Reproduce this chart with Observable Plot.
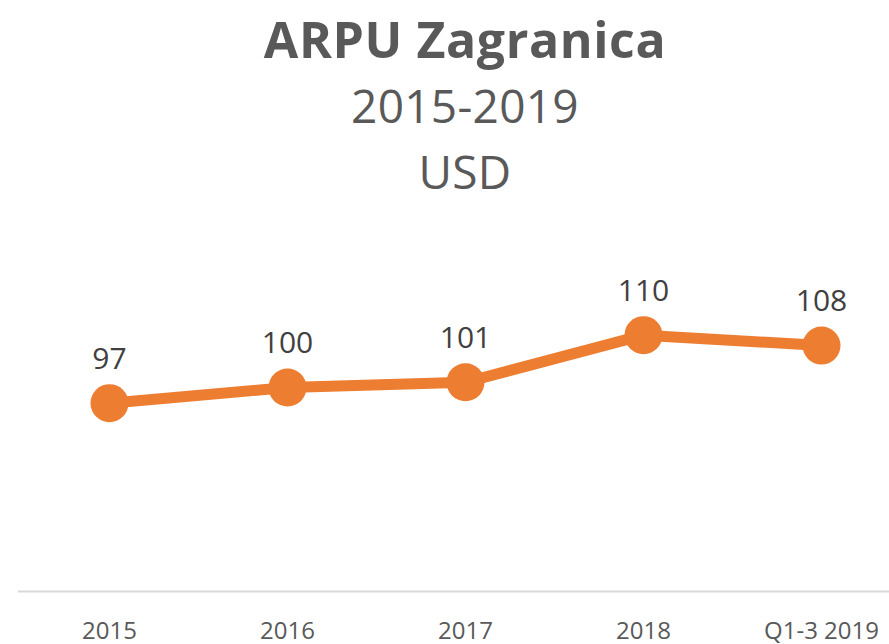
<!DOCTYPE html>
<html>
<head>
<meta charset="utf-8">
<script src="https://cdn.jsdelivr.net/npm/d3@7"></script>
<script src="https://cdn.jsdelivr.net/npm/@observablehq/plot@0.6"></script>
<style>
  html, body { margin: 0; padding: 0; background: #fff; overflow: hidden; }
  #wrap { width: 889px; height: 644px; position: relative; font-family: "Open Sans", sans-serif; }
  #titles { position: absolute; left: 0; top: 6px; width: 930px; height: 204px; text-align: center; color: #595959; }
  .t1 { font-weight: 700; font-size: 50px; line-height: 66px; height: 66px; letter-spacing: 0.6px; }
  .t2 { font-weight: 400; font-size: 46px; line-height: 66px; height: 66px; letter-spacing: 0.3px; }
  #chart { position: absolute; left: 0; top: 210px; }
</style>
</head>
<body>
<div id="wrap">
  <div id="titles">
    <div class="t1">ARPU Zagranica</div>
    <div class="t2">2015-2019</div>
    <div class="t2">USD</div>
  </div>
  <div id="chart"></div>
</div>
<script>
const categories = ["2015", "2016", "2017", "2018", "Q1-3 2019"];
const values = [97, 100, 101, 110, 108];

const data = categories.map((c, i) => ({category: c, value: values[i]}));

const plot = Plot.plot({
  width: 889,
  height: 434,
  marginLeft: 18,
  marginRight: 0,
  marginTop: 20,
  marginBottom: 53,
  style: {fontFamily: "Open Sans, sans-serif", background: "transparent", overflow: "visible"},
  x: {type: "point", domain: categories, padding: 0.44, align: 0.57, label: null},
  y: {domain: [61, 130], axis: null},
  marks: [
    Plot.ruleY([61], {stroke: "#d9d9d9", strokeWidth: 2}),
    Plot.axisX({tickSize: 0, tickPadding: 30, fontSize: 24, fill: "#595959", label: null}),
    Plot.line(data, {x: "category", y: "value", stroke: "#ED7D31", strokeWidth: 11, strokeLinejoin: "round"}),
    Plot.dot(data, {x: "category", y: "value", r: 19, fill: "#ED7D31", stroke: "none"}),
    Plot.text(data, {x: "category", y: "value", text: d => String(d.value), dy: -44, fontSize: 30, fill: "#404040"})
  ]
});
document.getElementById("chart").appendChild(plot);
</script>
</body>
</html>
